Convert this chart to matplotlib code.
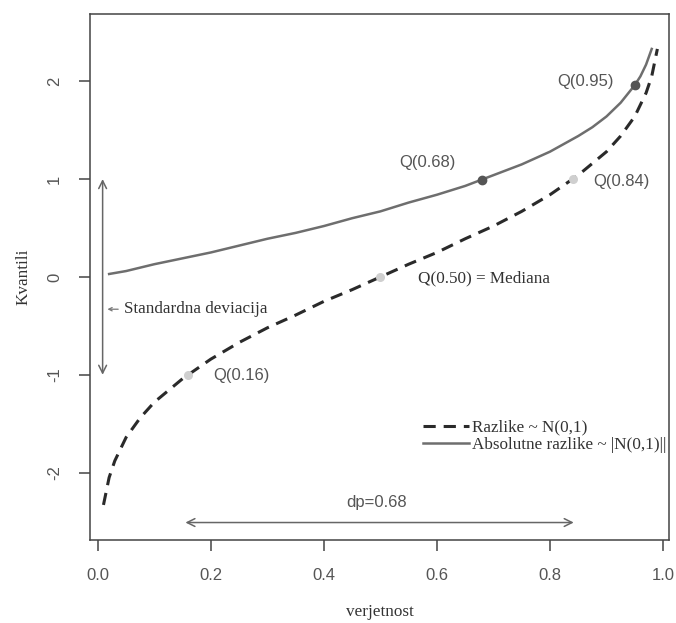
# coding=utf-8
"""
Kvantili normalne porazdelitve in absolutne vrednosti normalne porazdelitve
"""
import matplotlib
import matplotlib.pyplot as plt

# data
# dashed curve: Razlike ~ N(0,1)
p_norm = [0.01, 0.02, 0.03, 0.05, 0.075, 0.10, 0.15, 0.20, 0.25, 0.30, 0.35,
          0.40, 0.45, 0.50, 0.55, 0.60, 0.65, 0.70, 0.75, 0.80, 0.85, 0.90,
          0.925, 0.95, 0.97, 0.98, 0.99]
q_norm = [-2.33, -2.05, -1.88, -1.64, -1.44, -1.28, -1.04, -0.84, -0.67, -0.52,
          -0.39, -0.25, -0.13, 0.00, 0.13, 0.25, 0.39, 0.52, 0.67, 0.84, 1.04,
          1.28, 1.44, 1.64, 1.88, 2.05, 2.33]
# solid curve: Absolutne razlike ~ |N(0,1)|
p_abs = [0.02, 0.05, 0.10, 0.15, 0.20, 0.25, 0.30, 0.35, 0.40, 0.45, 0.50,
         0.55, 0.60, 0.65, 0.70, 0.75, 0.80, 0.85, 0.875, 0.90, 0.925, 0.95,
         0.96, 0.97, 0.98]
q_abs = [0.03, 0.06, 0.13, 0.19, 0.25, 0.32, 0.39, 0.45, 0.52, 0.60, 0.67,
         0.76, 0.84, 0.93, 1.04, 1.15, 1.28, 1.44, 1.53, 1.64, 1.78, 1.96,
         2.05, 2.17, 2.33]
# marked quantiles
p_light = [0.16, 0.50, 0.84]
q_light = [-1.0, 0.0, 1.0]
p_dark = [0.68, 0.95]
q_dark = [0.99, 1.96]

x_ticks = [0.0, 0.2, 0.4, 0.6, 0.8, 1.0]
x_ticklabels = ['0.0', '0.2', '0.4', '0.6', '0.8', '1.0']
y_ticks = [-2, -1, 0, 1, 2]
y_ticklabels = ['-2', '-1', '0', '1', '2']

SERIF = 'Liberation Serif'
SANS = 'Liberation Sans'
TXTGRAY = '#555555'

matplotlib.rcParams.update({'font.size': 12})
fig = plt.figure(figsize=(6.76, 6.23), dpi=100)
ax = fig.add_axes([0.133, 0.133, 0.857, 0.845])

# curves
ax.plot(p_norm, q_norm, color='#2a2a2a', lw=2.2, dashes=(4, 2.6),
        label='Razlike ~ N(0,1)')
ax.plot(p_abs, q_abs, color='#6e6e6e', lw=1.8,
        label='Absolutne razlike ~ |N(0,1)||')
ax.scatter(p_light, q_light, s=30, color='#cfcfcf', zorder=3)
ax.scatter(p_dark, q_dark, s=36, color='#555555', zorder=3)

# labels of quantiles
ax.text(0.204, -1.01, 'Q(0.16)', family=SANS, color=TXTGRAY, ha='left', va='center')
ax.text(0.566, -0.02, 'Q(0.50) = Mediana', family=SERIF, color='#333333',
        ha='left', va='center', fontsize=12.3)
ax.text(0.584, 1.17, 'Q(0.68)', family=SANS, color=TXTGRAY, ha='center', va='center')
ax.text(0.876, 0.98, 'Q(0.84)', family=SANS, color=TXTGRAY, ha='left', va='center')
ax.text(0.912, 2.0, 'Q(0.95)', family=SANS, color=TXTGRAY, ha='right', va='center')

# standard deviation arrow
ax.annotate('', xy=(0.0085, 1.0), xytext=(0.0085, -1.0),
            arrowprops=dict(arrowstyle='<->', color='#666666', lw=1.1,
                            shrinkA=0, shrinkB=0, mutation_scale=14))
ax.annotate('', xy=(0.017, -0.33), xytext=(0.036, -0.33),
            arrowprops=dict(arrowstyle='->', color='#777777', lw=0.9,
                            shrinkA=0, shrinkB=0, mutation_scale=6))
ax.text(0.047, -0.33, 'Standardna deviacija', family=SERIF, color='#333333',
        ha='left', va='center', fontsize=12.3)

# dp arrow
ax.annotate('', xy=(0.155, -2.51), xytext=(0.842, -2.51),
            arrowprops=dict(arrowstyle='<->', color='#666666', lw=1.1,
                            shrinkA=0, shrinkB=0, mutation_scale=14))
ax.text(0.493, -2.31, 'dp=0.68', family=SANS, color=TXTGRAY, ha='center', va='center')

# legend
leg = ax.legend(loc='upper left', bbox_to_anchor=(0.56, 0.245), frameon=False,
                prop={'family': SERIF, 'size': 12.3}, handlelength=2.7,
                handletextpad=0.2, labelspacing=0.05, borderpad=0)
for t in leg.get_texts():
    t.set_color('#333333')

# axes
ax.set_xlim(-0.014, 1.011)
ax.set_ylim(-2.69, 2.69)
ax.set_xticks(x_ticks)
ax.set_xticklabels(x_ticklabels, family=SANS, color=TXTGRAY)
ax.set_yticks(y_ticks)
ax.set_yticklabels(y_ticklabels, family=SANS, color=TXTGRAY, rotation=90, va='center')
ax.tick_params(length=8, width=1.1, color='#444444', pad=12)
for spine in ax.spines.values():
    spine.set_color('#444444')
    spine.set_linewidth(1.1)
ax.set_xlabel('verjetnost', family=SERIF, color='#333333', fontsize=12.3, labelpad=15)
ax.set_ylabel('Kvantili', family=SERIF, color='#333333', fontsize=12.3, labelpad=11)

plt.savefig('out.png', dpi=100)
plt.close()
